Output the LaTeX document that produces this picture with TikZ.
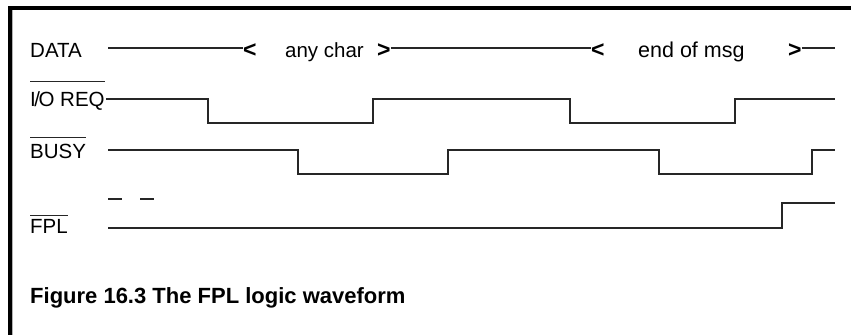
\documentclass[tikz,border=0pt]{standalone}
\usepackage{fontspec}
\setmainfont{Liberation Sans}
\usepackage{tikz}
\usetikzlibrary{positioning}

\tikzset{
  sig/.style={font=\fontsize{20.5}{24}\selectfont, inner sep=0pt, anchor=base west},
  bracket/.style={font=\fontsize{23}{26}\selectfont\bfseries, inner sep=0pt, anchor=base west},
  wave/.style={line width=1.6pt, black!85},
  ovl/.style={line width=1.4pt, black!85}
}

\begin{document}
\begin{tikzpicture}[x=1pt, y=-1pt]
  \useasboundingbox (0,0) rectangle (851,335);
  % Frame
  \fill[black] (8,6) rectangle (851,10);
  \fill[black] (8,6) rectangle (12,335);
  \fill[gray!60] (12,10) rectangle (13.3,335);

  % Signal names
  \node[sig] (data) at (30,57) {DATA};
  \node[sig] (ioreq) at (30,106) {I\kern-1.5pt/\kern-1.5pt O REQ};
  \node[sig] (busy) at (30,158) {BUSY};
  \node[sig] (fpl) at (30,233) {FPL};
  % Overlines (active low)
  \draw[ovl] ([yshift=9.5pt]ioreq.north west) -- ([yshift=9.5pt]ioreq.north east);
  \draw[ovl] ([yshift=6pt]busy.north west) -- ([yshift=6pt]busy.north east);
  \draw[ovl] ([yshift=3.5pt]fpl.north west) -- ([yshift=3.5pt]fpl.north east);

  % DATA bus
  \coordinate (dstart) at (108,48);
  \coordinate (dend) at (835,48);
  \node[bracket] (lt1) at (243,57.5) {<};
  \node[sig] (anychar) at (285,57) {any char};
  \node[bracket] (gt1) at (377,57.5) {>};
  \node[bracket] (lt2) at (591,57.5) {<};
  \node[sig, font=\fontsize{21.5}{24}\selectfont] (eom) at (638,57) {end of msg};
  \node[bracket] (gt2) at (788,57.5) {>};
  \draw[wave] (dstart) -- (dstart -| lt1.west);
  \draw[wave] (dstart -| gt1.east) -- (dstart -| lt2.west);
  \draw[wave] (dstart -| gt2.east) -- (dend);

  % I/O REQ
  \draw[wave] (106,99) -- (208,99) -- (208,123) -- (373,123) -- (373,99)
    -- (570,99) -- (570,123) -- (735,123) -- (735,99) -- (835,99);
  % BUSY
  \draw[wave] (108,150) -- (298,150) -- (298,174) -- (448,174) -- (448,150)
    -- (659,150) -- (659,174) -- (812,174) -- (812,150) -- (835,150);
  % FPL
  \draw[wave] (108,199) -- (122,199);
  \draw[wave] (140,199) -- (154,199);
  \draw[wave] (108,228) -- (782,228) -- (782,203) -- (835,203);

  % Caption
  \node[sig, font=\fontsize{22}{26}\selectfont\bfseries] (cap) at (30,303)
    {Figure 16.3 The FPL logic waveform};
\end{tikzpicture}
\end{document}
